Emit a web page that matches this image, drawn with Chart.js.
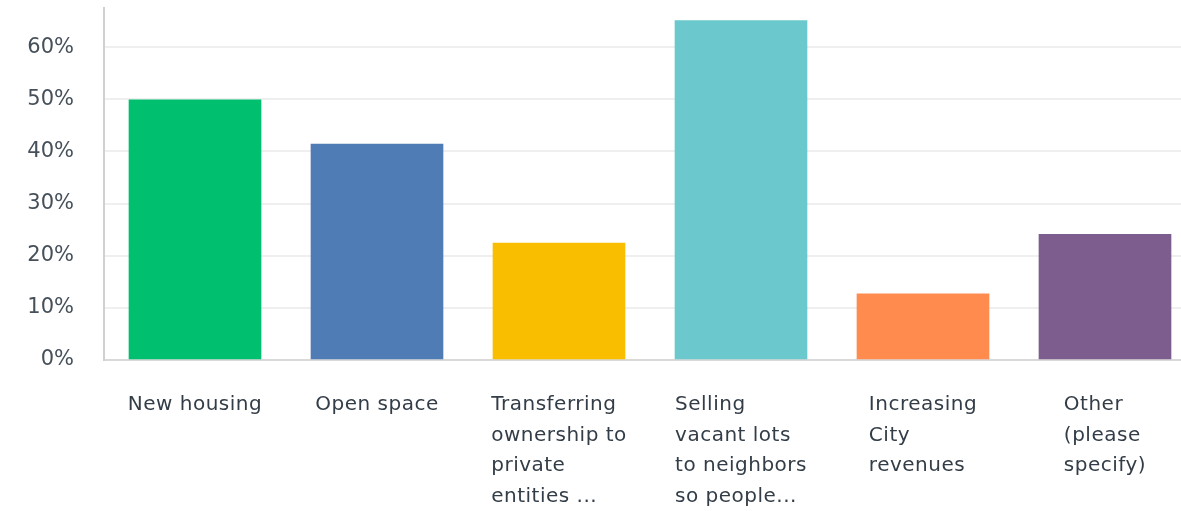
<!DOCTYPE html>
<html>
<head>
<meta charset="utf-8">
<script src="https://cdn.jsdelivr.net/npm/chart.js@4.4.1/dist/chart.umd.min.js"></script>
<style>
  html, body { margin: 0; padding: 0; background: #fff; overflow: hidden; }
  #wrap { position: relative; width: 1200px; height: 511px; }
</style>
</head>
<body>
<div id="wrap"><canvas id="c"></canvas></div>
<script>
const categories = [
  ["New housing"],
  ["Open space"],
  ["Transferring", "ownership to", "private", "entities ..."],
  ["Selling", "vacant lots", "to neighbors", "so people..."],
  ["Increasing", "City", "revenues"],
  ["Other", "(please", "specify)"]
];
const values = [49.9, 41.4, 22.4, 65.1, 12.7, 24.1];
const barColors = ["#00bf6f", "#507cb6", "#f9be00", "#6bc8cd", "#ff8b4f", "#7d5c8e"];
const yTicks = [0, 10, 20, 30, 40, 50, 60];

const FONT = "'DejaVu Sans', sans-serif";

const leftBlockLabels = {
  id: 'leftBlockLabels',
  afterDraw(chart) {
    const ctx = chart.ctx;
    const xs = chart.scales.x;
    ctx.save();
    ctx.font = "20px " + FONT;
    ctx.fillStyle = "#333d47";
    ctx.textBaseline = "middle";
    ctx.textAlign = "left";
    try { ctx.letterSpacing = "0.5px"; } catch (e) {}
    const lineH = 30.6;
    const firstY = 405;
    categories.forEach((lines, i) => {
      const cx = xs.getPixelForTick(i);
      let w = 0;
      lines.forEach(l => { w = Math.max(w, ctx.measureText(l).width); });
      const x0 = cx - w / 2;
      lines.forEach((l, j) => ctx.fillText(l, x0, firstY + j * lineH));
    });
    ctx.restore();
  }
};

new Chart(document.getElementById('c'), {
  type: 'bar',
  data: {
    labels: categories,
    datasets: [{
      data: values,
      backgroundColor: barColors,
      borderWidth: 0,
      barThickness: 132
    }]
  },
  options: {
    responsive: true,
    maintainAspectRatio: false,
    animation: false,
    layout: { padding: { top: 8, right: 4, left: 0, bottom: 0 } },
    plugins: { legend: { display: false }, tooltip: { enabled: false } },
    scales: {
      x: {
        grid: { display: false, drawTicks: false },
        border: { display: true, color: '#d9d9d9', width: 2 },
        ticks: { display: false, maxRotation: 0, minRotation: 0 },
        afterFit(scale) { scale.height = 151; scale.paddingLeft = 0; scale.paddingRight = 0; }
      },
      y: {
        min: 0,
        max: 67.5,
        afterBuildTicks(axis) {
          axis.ticks = yTicks.map(v => ({ value: v }));
        },
        grid: { color: '#efefef', lineWidth: 2, drawTicks: false },
        border: { display: true, color: '#d0d0d0', width: 2 },
        ticks: {
          color: '#46505a',
          padding: 30,
          font: { size: 21, family: FONT },
          callback: v => v + '%'
        },
        afterFit(scale) { scale.width = 104; scale.paddingTop = 0; scale.paddingBottom = 0; }
      }
    }
  },
  plugins: [leftBlockLabels]
});
</script>
</body>
</html>
